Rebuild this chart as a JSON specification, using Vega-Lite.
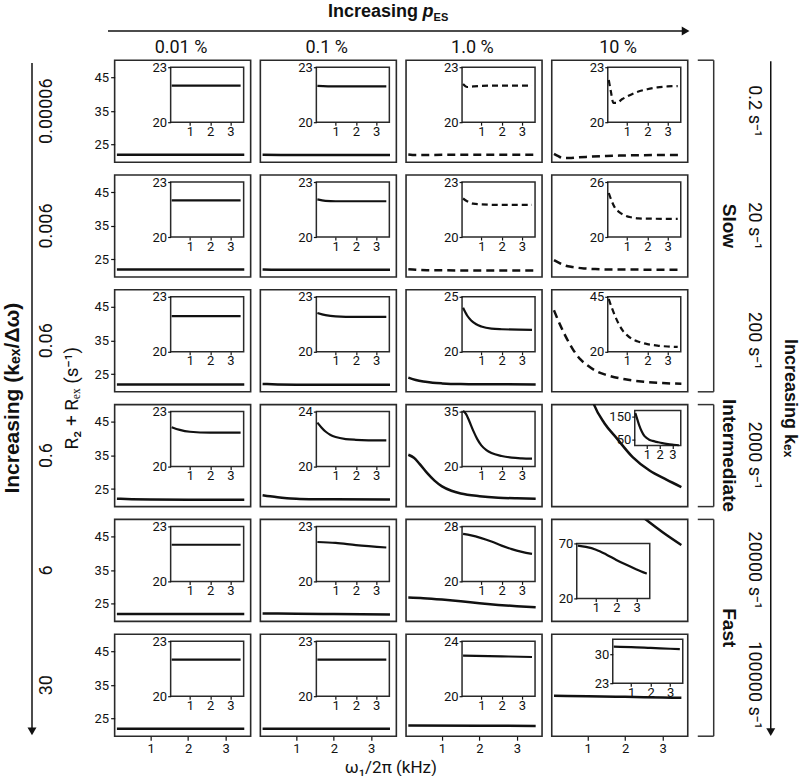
{
"$schema":"https://vega.github.io/schema/vega-lite/v6.json",
"padding":0,
"spacing":2.2,
"datasets":{"curves":[
{"p":"r1c1","x":0.1,"r":22},{"p":"r1c1","x":1,"r":22},{"p":"r1c1","x":2,"r":22},{"p":"r1c1","x":3.5,"r":22},
{"p":"r1c2","x":0.1,"r":21.98},{"p":"r1c2","x":1,"r":21.95},{"p":"r1c2","x":2,"r":21.95},{"p":"r1c2","x":3.5,"r":21.95},
{"p":"r1c3","x":0.1,"r":22.08},{"p":"r1c3","x":0.3,"r":21.92},{"p":"r1c3","x":0.6,"r":21.95},{"p":"r1c3","x":1,"r":21.98},{"p":"r1c3","x":2,"r":22},{"p":"r1c3","x":3.5,"r":22},
{"p":"r1c4","x":0.1,"r":22.3},{"p":"r1c4","x":0.2,"r":21.7},{"p":"r1c4","x":0.33,"r":21.05},{"p":"r1c4","x":0.5,"r":21.05},{"p":"r1c4","x":0.75,"r":21.25},{"p":"r1c4","x":1,"r":21.4},{"p":"r1c4","x":1.5,"r":21.65},{"p":"r1c4","x":2,"r":21.8},{"p":"r1c4","x":2.5,"r":21.9},{"p":"r1c4","x":3,"r":21.95},{"p":"r1c4","x":3.5,"r":21.97},
{"p":"r2c1","x":0.1,"r":22},{"p":"r2c1","x":1,"r":22},{"p":"r2c1","x":2,"r":22},{"p":"r2c1","x":3.5,"r":22},
{"p":"r2c2","x":0.1,"r":22.05},{"p":"r2c2","x":0.5,"r":21.97},{"p":"r2c2","x":1,"r":21.95},{"p":"r2c2","x":2,"r":21.95},{"p":"r2c2","x":3.5,"r":21.95},
{"p":"r2c3","x":0.1,"r":22.1},{"p":"r2c3","x":0.3,"r":21.95},{"p":"r2c3","x":0.6,"r":21.82},{"p":"r2c3","x":1,"r":21.78},{"p":"r2c3","x":2,"r":21.75},{"p":"r2c3","x":3.5,"r":21.75},
{"p":"r2c4","x":0.1,"r":24.8},{"p":"r2c4","x":0.25,"r":23.9},{"p":"r2c4","x":0.4,"r":23.2},{"p":"r2c4","x":0.6,"r":22.75},{"p":"r2c4","x":0.9,"r":22.35},{"p":"r2c4","x":1.2,"r":22.15},{"p":"r2c4","x":1.55,"r":22.03},{"p":"r2c4","x":2,"r":22},{"p":"r2c4","x":3.5,"r":21.98},
{"p":"r3c1","x":0.1,"r":21.95},{"p":"r3c1","x":1,"r":21.95},{"p":"r3c1","x":2,"r":21.95},{"p":"r3c1","x":3.5,"r":21.95},
{"p":"r3c2","x":0.1,"r":22.12},{"p":"r3c2","x":0.5,"r":22},{"p":"r3c2","x":1,"r":21.93},{"p":"r3c2","x":2,"r":21.9},{"p":"r3c2","x":3.5,"r":21.9},
{"p":"r3c3","x":0.1,"r":24},{"p":"r3c3","x":0.3,"r":23.3},{"p":"r3c3","x":0.5,"r":22.85},{"p":"r3c3","x":0.75,"r":22.5},{"p":"r3c3","x":1,"r":22.3},{"p":"r3c3","x":1.5,"r":22.1},{"p":"r3c3","x":2,"r":22.05},{"p":"r3c3","x":3.5,"r":22},
{"p":"r3c4","x":0.1,"r":44},{"p":"r3c4","x":0.25,"r":40},{"p":"r3c4","x":0.4,"r":36.5},{"p":"r3c4","x":0.6,"r":32.5},{"p":"r3c4","x":0.8,"r":29.5},{"p":"r3c4","x":1,"r":27.6},{"p":"r3c4","x":1.25,"r":25.8},{"p":"r3c4","x":1.5,"r":24.8},{"p":"r3c4","x":2,"r":23.5},{"p":"r3c4","x":2.5,"r":22.8},{"p":"r3c4","x":3,"r":22.4},{"p":"r3c4","x":3.5,"r":22.2},
{"p":"r4c1","x":0.1,"r":22.15},{"p":"r4c1","x":0.5,"r":22},{"p":"r4c1","x":1,"r":21.9},{"p":"r4c1","x":2,"r":21.85},{"p":"r4c1","x":3.5,"r":21.85},
{"p":"r4c2","x":0.1,"r":23.2},{"p":"r4c2","x":0.3,"r":22.85},{"p":"r4c2","x":0.5,"r":22.55},{"p":"r4c2","x":0.75,"r":22.3},{"p":"r4c2","x":1,"r":22.15},{"p":"r4c2","x":1.5,"r":22},{"p":"r4c2","x":2,"r":21.95},{"p":"r4c2","x":3.5,"r":21.9},
{"p":"r4c3","x":0.1,"r":35.2},{"p":"r4c3","x":0.25,"r":34.3},{"p":"r4c3","x":0.4,"r":32.5},{"p":"r4c3","x":0.6,"r":29.8},{"p":"r4c3","x":0.8,"r":27.5},{"p":"r4c3","x":1,"r":25.8},{"p":"r4c3","x":1.25,"r":24.5},{"p":"r4c3","x":1.5,"r":23.7},{"p":"r4c3","x":2,"r":22.9},{"p":"r4c3","x":2.5,"r":22.45},{"p":"r4c3","x":3,"r":22.25},{"p":"r4c3","x":3.5,"r":22.15},
{"p":"r4c4","x":0.1,"r":165},{"p":"r4c4","x":0.25,"r":138},{"p":"r4c4","x":0.4,"r":112},{"p":"r4c4","x":0.6,"r":85},{"p":"r4c4","x":0.8,"r":66},{"p":"r4c4","x":1,"r":56},{"p":"r4c4","x":1.18,"r":49.8},{"p":"r4c4","x":1.45,"r":44.5},{"p":"r4c4","x":1.76,"r":40.3},{"p":"r4c4","x":2.2,"r":34.5},{"p":"r4c4","x":2.65,"r":30.5},{"p":"r4c4","x":3.1,"r":27.8},{"p":"r4c4","x":3.5,"r":25.6},
{"p":"r5c1","x":0.1,"r":22},{"p":"r5c1","x":1,"r":22},{"p":"r5c1","x":2,"r":22},{"p":"r5c1","x":3.5,"r":22},
{"p":"r5c2","x":0.1,"r":22.15},{"p":"r5c2","x":1,"r":22.1},{"p":"r5c2","x":2,"r":21.98},{"p":"r5c2","x":3.5,"r":21.85},
{"p":"r5c3","x":0.1,"r":26.9},{"p":"r5c3","x":0.5,"r":26.7},{"p":"r5c3","x":1,"r":26.3},{"p":"r5c3","x":1.5,"r":25.8},{"p":"r5c3","x":2,"r":25.2},{"p":"r5c3","x":2.5,"r":24.7},{"p":"r5c3","x":3,"r":24.3},{"p":"r5c3","x":3.5,"r":24},
{"p":"r5c4","x":0.1,"r":68},{"p":"r5c4","x":0.5,"r":66.8},{"p":"r5c4","x":1,"r":64.3},{"p":"r5c4","x":1.5,"r":60},{"p":"r5c4","x":2,"r":55},{"p":"r5c4","x":2.5,"r":50.5},{"p":"r5c4","x":3,"r":46.3},{"p":"r5c4","x":3.5,"r":42.5},
{"p":"r6c1","x":0.1,"r":22},{"p":"r6c1","x":1,"r":22},{"p":"r6c1","x":2,"r":22},{"p":"r6c1","x":3.5,"r":22},
{"p":"r6c2","x":0.1,"r":22},{"p":"r6c2","x":1,"r":22},{"p":"r6c2","x":2,"r":22},{"p":"r6c2","x":3.5,"r":22},
{"p":"r6c3","x":0.1,"r":22.95},{"p":"r6c3","x":2,"r":22.9},{"p":"r6c3","x":3.5,"r":22.85},
{"p":"r6c4","x":0.1,"r":31.8},{"p":"r6c4","x":1,"r":31.7},{"p":"r6c4","x":2,"r":31.5},{"p":"r6c4","x":3,"r":31.3},{"p":"r6c4","x":3.5,"r":31.2}
]},
"vconcat":[
{
 "width":800,"height":56,"view":{"stroke":null},
 "data":{"values":[{}]},
 "layer":[
  {"mark":{"type":"text","text":"Increasing","font":"Liberation Sans","fontWeight":"bold","fontSize":18,"align":"right","baseline":"alphabetic","color":"#111"},
   "encoding":{"x":{"datum":0.5225,"type":"quantitative","scale":{"domain":[0,1],"nice":false,"zero":false},"axis":null},"y":{"datum":0.3036,"type":"quantitative","scale":{"domain":[0,1],"reverse":true,"nice":false,"zero":false},"axis":null}}},
  {"mark":{"type":"text","text":"p","font":"Liberation Sans","fontWeight":"bold","fontStyle":"italic","fontSize":18,"align":"left","baseline":"alphabetic","color":"#111"},
   "encoding":{"x":{"datum":0.528,"type":"quantitative","scale":{"domain":[0,1],"nice":false,"zero":false},"axis":null},"y":{"datum":0.3036,"type":"quantitative","scale":{"domain":[0,1],"reverse":true,"nice":false,"zero":false},"axis":null}}},
  {"mark":{"type":"text","text":"ES","font":"Liberation Sans","fontWeight":"bold","fontSize":11,"align":"left","baseline":"alphabetic","color":"#111"},
   "encoding":{"x":{"datum":0.542,"type":"quantitative","scale":{"domain":[0,1],"nice":false,"zero":false},"axis":null},"y":{"datum":0.375,"type":"quantitative","scale":{"domain":[0,1],"reverse":true,"nice":false,"zero":false},"axis":null}}},
  {"mark":{"type":"rule","strokeWidth":1.5,"color":"#111"},
   "encoding":{"x":{"datum":0.135,"type":"quantitative","scale":{"domain":[0,1],"nice":false,"zero":false},"axis":null},"x2":{"datum":0.855},"y":{"datum":0.5536,"type":"quantitative","scale":{"domain":[0,1],"reverse":true,"nice":false,"zero":false},"axis":null}}},
  {"mark":{"type":"point","shape":"triangle-right","size":80,"filled":true,"color":"#111","opacity":1},
   "encoding":{"x":{"datum":0.857,"type":"quantitative","scale":{"domain":[0,1],"nice":false,"zero":false},"axis":null},"y":{"datum":0.5536,"type":"quantitative","scale":{"domain":[0,1],"reverse":true,"nice":false,"zero":false},"axis":null}}},
  {"data":{"values":[{"c":"0.01 %"},{"c":"0.1 %"},{"c":"1.0 %"},{"c":"10 %"}]},
   "mark":{"type":"text","fontSize":18,"align":"center","baseline":"alphabetic","color":"#111"},
   "encoding":{"text":{"field":"c"},"x":{"field":"c","type":"ordinal","sort":null,"scale":{"type":"point","domain":["0.01 %","0.1 %","1.0 %","10 %"],"range":[181,618.1],"padding":0},"axis":null},"y":{"datum":0.9464,"type":"quantitative","scale":{"domain":[0,1],"reverse":true,"nice":false,"zero":false},"axis":null}}}
 ],
 "resolve":{"scale":{"x":"independent"}}
},
{
 "hconcat":[
 {
  "width":84.75,"height":676,"view":{"stroke":null},
  "layer":[
   {"data":{"values":[{}]},"mark":{"type":"rule","strokeWidth":1.5,"color":"#111"},"encoding":{"x":{"datum":0.3776,"type":"quantitative","scale":{"domain":[0,1],"nice":false,"zero":false},"axis":null},"y":{"datum":0.004,"type":"quantitative","scale":{"domain":[0,1],"reverse":true,"nice":false,"zero":false},"axis":null},"y2":{"datum":0.99}}},
   {"data":{"values":[{}]},"mark":{"type":"point","shape":"triangle-down","size":80,"filled":true,"color":"#111","opacity":1},"encoding":{"x":{"datum":0.3776,"type":"quantitative","scale":{"domain":[0,1],"nice":false,"zero":false},"axis":null},"y":{"datum":0.993,"type":"quantitative","scale":{"domain":[0,1],"reverse":true,"nice":false,"zero":false},"axis":null}}},
   {"data":{"values":[{}]},"mark":{"type":"text","text":"Increasing (kₑₓ/Δω)","font":"Liberation Sans","fontWeight":"bold","fontSize":21,"angle":270,"align":"center","baseline":"middle","color":"#111"},"encoding":{"x":{"datum":0.1534,"type":"quantitative","scale":{"domain":[0,1],"nice":false,"zero":false},"axis":null},"y":{"datum":0.5,"type":"quantitative","scale":{"domain":[0,1],"reverse":true,"nice":false,"zero":false},"axis":null}}},
   {"data":{"values":[{}]},"mark":{"type":"text","text":"R₂ + Rₑₓ (s⁻¹)","fontSize":19,"angle":270,"align":"center","baseline":"middle","color":"#111"},"encoding":{"x":{"datum":0.8496,"type":"quantitative","scale":{"domain":[0,1],"nice":false,"zero":false},"axis":null},"y":{"datum":0.5,"type":"quantitative","scale":{"domain":[0,1],"reverse":true,"nice":false,"zero":false},"axis":null}}},
   {"data":{"values":[{"k":"0.00006"},{"k":"0.006"},{"k":"0.06"},{"k":"0.6"},{"k":"6"},{"k":"30"}]},"mark":{"type":"text","fontSize":18,"angle":270,"align":"center","baseline":"middle","color":"#111"},"encoding":{"text":{"field":"k"},"x":{"datum":0.5546,"type":"quantitative","scale":{"domain":[0,1],"nice":false,"zero":false},"axis":null},"y":{"field":"k","type":"ordinal","sort":null,"scale":{"type":"point","domain":["0.00006","0.006","0.06","0.6","6","30"],"padding":0.44425},"axis":null}}}
  ],
  "resolve":{"scale":{"y":"independent"}}
 },
 {
  "columns":4,
  "spacing":{"row":12.8,"column":9.7},
  "bounds":"flush",
  "title":{"text":"ω₁/2π (kHz)","orient":"bottom","anchor":"middle","fontSize":17,"fontWeight":"normal","offset":4},
  "concat":[
    {"width":136,"height":102,"data":{"name":"curves"},"transform":[{"filter":"datum.p==='r1c1'"}],"layer":[{"mark":{"type":"line","clip":true,"strokeWidth":2.5,"color":"#111","interpolate":"monotone"},"encoding":{"x":{"field":"x","type":"quantitative","scale":{"domain":[0.04,3.67],"nice":false,"zero":false},"axis":null},"y":{"field":"r","type":"quantitative","scale":{"domain":[19.8,50.1],"nice":false,"zero":false},"axis":{"orient":"left","values":[25,35,45],"tickSize":4,"labelPadding":2,"title":null,"labelFlush":false}}}},{"data":{"values":[{}]},"mark":{"type":"rect","fill":"white","stroke":"#2a2a2a","strokeWidth":1.5},"encoding":{"x":{"datum":0.05,"type":"quantitative","scale":{"domain":[0.05,3.65],"range":[56,129],"nice":false,"zero":false},"axis":null},"x2":{"datum":3.65},"y":{"datum":20,"type":"quantitative","scale":{"domain":[20,23],"range":[62,7],"nice":false,"zero":false},"axis":null},"y2":{"datum":23}}},{"mark":{"type":"line","strokeWidth":2.2,"color":"#111","interpolate":"monotone"},"encoding":{"x":{"field":"x","type":"quantitative","scale":{"domain":[0.05,3.65],"range":[56,129],"nice":false,"zero":false},"axis":{"orient":"bottom","offset":-40,"values":[1,2,3],"tickSize":3,"labelPadding":0,"title":null,"labelFlush":false,"labelOverlap":false,"zindex":1}},"y":{"field":"r","type":"quantitative","scale":{"domain":[20,23],"range":[62,7],"nice":false,"zero":false},"axis":{"orient":"left","offset":-56,"values":[20,23],"tickSize":3,"labelPadding":1,"title":null,"labelFlush":false,"labelOverlap":false,"zindex":1}}}}],"resolve":{"scale":{"x":"independent","y":"independent"},"axis":{"x":"independent","y":"independent"}}},
    {"width":136,"height":102,"data":{"name":"curves"},"transform":[{"filter":"datum.p==='r1c2'"}],"layer":[{"mark":{"type":"line","clip":true,"strokeWidth":2.5,"color":"#111","interpolate":"monotone"},"encoding":{"x":{"field":"x","type":"quantitative","scale":{"domain":[0.04,3.67],"nice":false,"zero":false},"axis":null},"y":{"field":"r","type":"quantitative","scale":{"domain":[19.8,50.1],"nice":false,"zero":false},"axis":null}}},{"data":{"values":[{}]},"mark":{"type":"rect","fill":"white","stroke":"#2a2a2a","strokeWidth":1.5},"encoding":{"x":{"datum":0.05,"type":"quantitative","scale":{"domain":[0.05,3.65],"range":[56,129],"nice":false,"zero":false},"axis":null},"x2":{"datum":3.65},"y":{"datum":20,"type":"quantitative","scale":{"domain":[20,23],"range":[62,7],"nice":false,"zero":false},"axis":null},"y2":{"datum":23}}},{"mark":{"type":"line","strokeWidth":2.2,"color":"#111","interpolate":"monotone"},"encoding":{"x":{"field":"x","type":"quantitative","scale":{"domain":[0.05,3.65],"range":[56,129],"nice":false,"zero":false},"axis":{"orient":"bottom","offset":-40,"values":[1,2,3],"tickSize":3,"labelPadding":0,"title":null,"labelFlush":false,"labelOverlap":false,"zindex":1}},"y":{"field":"r","type":"quantitative","scale":{"domain":[20,23],"range":[62,7],"nice":false,"zero":false},"axis":{"orient":"left","offset":-56,"values":[20,23],"tickSize":3,"labelPadding":1,"title":null,"labelFlush":false,"labelOverlap":false,"zindex":1}}}}],"resolve":{"scale":{"x":"independent","y":"independent"},"axis":{"x":"independent","y":"independent"}}},
    {"width":136,"height":102,"data":{"name":"curves"},"transform":[{"filter":"datum.p==='r1c3'"}],"layer":[{"mark":{"type":"line","clip":true,"strokeWidth":2.5,"color":"#111","interpolate":"monotone","strokeDash":[8,5]},"encoding":{"x":{"field":"x","type":"quantitative","scale":{"domain":[0.04,3.67],"nice":false,"zero":false},"axis":null},"y":{"field":"r","type":"quantitative","scale":{"domain":[19.8,50.1],"nice":false,"zero":false},"axis":null}}},{"data":{"values":[{}]},"mark":{"type":"rect","fill":"white","stroke":"#2a2a2a","strokeWidth":1.5},"encoding":{"x":{"datum":0.05,"type":"quantitative","scale":{"domain":[0.05,3.65],"range":[56,129],"nice":false,"zero":false},"axis":null},"x2":{"datum":3.65},"y":{"datum":20,"type":"quantitative","scale":{"domain":[20,23],"range":[62,7],"nice":false,"zero":false},"axis":null},"y2":{"datum":23}}},{"mark":{"type":"line","strokeWidth":2.2,"color":"#111","interpolate":"monotone","strokeDash":[6,4]},"encoding":{"x":{"field":"x","type":"quantitative","scale":{"domain":[0.05,3.65],"range":[56,129],"nice":false,"zero":false},"axis":{"orient":"bottom","offset":-40,"values":[1,2,3],"tickSize":3,"labelPadding":0,"title":null,"labelFlush":false,"labelOverlap":false,"zindex":1}},"y":{"field":"r","type":"quantitative","scale":{"domain":[20,23],"range":[62,7],"nice":false,"zero":false},"axis":{"orient":"left","offset":-56,"values":[20,23],"tickSize":3,"labelPadding":1,"title":null,"labelFlush":false,"labelOverlap":false,"zindex":1}}}}],"resolve":{"scale":{"x":"independent","y":"independent"},"axis":{"x":"independent","y":"independent"}}},
    {"width":136,"height":102,"data":{"name":"curves"},"transform":[{"filter":"datum.p==='r1c4'"}],"layer":[{"mark":{"type":"line","clip":true,"strokeWidth":2.5,"color":"#111","interpolate":"monotone","strokeDash":[8,5]},"encoding":{"x":{"field":"x","type":"quantitative","scale":{"domain":[0.04,3.67],"nice":false,"zero":false},"axis":null},"y":{"field":"r","type":"quantitative","scale":{"domain":[19.8,50.1],"nice":false,"zero":false},"axis":null}}},{"data":{"values":[{}]},"mark":{"type":"rect","fill":"white","stroke":"#2a2a2a","strokeWidth":1.5},"encoding":{"x":{"datum":0.05,"type":"quantitative","scale":{"domain":[0.05,3.65],"range":[56,129],"nice":false,"zero":false},"axis":null},"x2":{"datum":3.65},"y":{"datum":20,"type":"quantitative","scale":{"domain":[20,23],"range":[62,7],"nice":false,"zero":false},"axis":null},"y2":{"datum":23}}},{"mark":{"type":"line","strokeWidth":2.2,"color":"#111","interpolate":"monotone","strokeDash":[6,4]},"encoding":{"x":{"field":"x","type":"quantitative","scale":{"domain":[0.05,3.65],"range":[56,129],"nice":false,"zero":false},"axis":{"orient":"bottom","offset":-40,"values":[1,2,3],"tickSize":3,"labelPadding":0,"title":null,"labelFlush":false,"labelOverlap":false,"zindex":1}},"y":{"field":"r","type":"quantitative","scale":{"domain":[20,23],"range":[62,7],"nice":false,"zero":false},"axis":{"orient":"left","offset":-56,"values":[20,23],"tickSize":3,"labelPadding":1,"title":null,"labelFlush":false,"labelOverlap":false,"zindex":1}}}}],"resolve":{"scale":{"x":"independent","y":"independent"},"axis":{"x":"independent","y":"independent"}}},
    {"width":136,"height":102,"data":{"name":"curves"},"transform":[{"filter":"datum.p==='r2c1'"}],"layer":[{"mark":{"type":"line","clip":true,"strokeWidth":2.5,"color":"#111","interpolate":"monotone"},"encoding":{"x":{"field":"x","type":"quantitative","scale":{"domain":[0.04,3.67],"nice":false,"zero":false},"axis":null},"y":{"field":"r","type":"quantitative","scale":{"domain":[19.8,50.1],"nice":false,"zero":false},"axis":{"orient":"left","values":[25,35,45],"tickSize":4,"labelPadding":2,"title":null,"labelFlush":false}}}},{"data":{"values":[{}]},"mark":{"type":"rect","fill":"white","stroke":"#2a2a2a","strokeWidth":1.5},"encoding":{"x":{"datum":0.05,"type":"quantitative","scale":{"domain":[0.05,3.65],"range":[56,129],"nice":false,"zero":false},"axis":null},"x2":{"datum":3.65},"y":{"datum":20,"type":"quantitative","scale":{"domain":[20,23],"range":[62,7],"nice":false,"zero":false},"axis":null},"y2":{"datum":23}}},{"mark":{"type":"line","strokeWidth":2.2,"color":"#111","interpolate":"monotone"},"encoding":{"x":{"field":"x","type":"quantitative","scale":{"domain":[0.05,3.65],"range":[56,129],"nice":false,"zero":false},"axis":{"orient":"bottom","offset":-40,"values":[1,2,3],"tickSize":3,"labelPadding":0,"title":null,"labelFlush":false,"labelOverlap":false,"zindex":1}},"y":{"field":"r","type":"quantitative","scale":{"domain":[20,23],"range":[62,7],"nice":false,"zero":false},"axis":{"orient":"left","offset":-56,"values":[20,23],"tickSize":3,"labelPadding":1,"title":null,"labelFlush":false,"labelOverlap":false,"zindex":1}}}}],"resolve":{"scale":{"x":"independent","y":"independent"},"axis":{"x":"independent","y":"independent"}}},
    {"width":136,"height":102,"data":{"name":"curves"},"transform":[{"filter":"datum.p==='r2c2'"}],"layer":[{"mark":{"type":"line","clip":true,"strokeWidth":2.5,"color":"#111","interpolate":"monotone"},"encoding":{"x":{"field":"x","type":"quantitative","scale":{"domain":[0.04,3.67],"nice":false,"zero":false},"axis":null},"y":{"field":"r","type":"quantitative","scale":{"domain":[19.8,50.1],"nice":false,"zero":false},"axis":null}}},{"data":{"values":[{}]},"mark":{"type":"rect","fill":"white","stroke":"#2a2a2a","strokeWidth":1.5},"encoding":{"x":{"datum":0.05,"type":"quantitative","scale":{"domain":[0.05,3.65],"range":[56,129],"nice":false,"zero":false},"axis":null},"x2":{"datum":3.65},"y":{"datum":20,"type":"quantitative","scale":{"domain":[20,23],"range":[62,7],"nice":false,"zero":false},"axis":null},"y2":{"datum":23}}},{"mark":{"type":"line","strokeWidth":2.2,"color":"#111","interpolate":"monotone"},"encoding":{"x":{"field":"x","type":"quantitative","scale":{"domain":[0.05,3.65],"range":[56,129],"nice":false,"zero":false},"axis":{"orient":"bottom","offset":-40,"values":[1,2,3],"tickSize":3,"labelPadding":0,"title":null,"labelFlush":false,"labelOverlap":false,"zindex":1}},"y":{"field":"r","type":"quantitative","scale":{"domain":[20,23],"range":[62,7],"nice":false,"zero":false},"axis":{"orient":"left","offset":-56,"values":[20,23],"tickSize":3,"labelPadding":1,"title":null,"labelFlush":false,"labelOverlap":false,"zindex":1}}}}],"resolve":{"scale":{"x":"independent","y":"independent"},"axis":{"x":"independent","y":"independent"}}},
    {"width":136,"height":102,"data":{"name":"curves"},"transform":[{"filter":"datum.p==='r2c3'"}],"layer":[{"mark":{"type":"line","clip":true,"strokeWidth":2.5,"color":"#111","interpolate":"monotone","strokeDash":[8,5]},"encoding":{"x":{"field":"x","type":"quantitative","scale":{"domain":[0.04,3.67],"nice":false,"zero":false},"axis":null},"y":{"field":"r","type":"quantitative","scale":{"domain":[19.8,50.1],"nice":false,"zero":false},"axis":null}}},{"data":{"values":[{}]},"mark":{"type":"rect","fill":"white","stroke":"#2a2a2a","strokeWidth":1.5},"encoding":{"x":{"datum":0.05,"type":"quantitative","scale":{"domain":[0.05,3.65],"range":[56,129],"nice":false,"zero":false},"axis":null},"x2":{"datum":3.65},"y":{"datum":20,"type":"quantitative","scale":{"domain":[20,23],"range":[62,7],"nice":false,"zero":false},"axis":null},"y2":{"datum":23}}},{"mark":{"type":"line","strokeWidth":2.2,"color":"#111","interpolate":"monotone","strokeDash":[6,4]},"encoding":{"x":{"field":"x","type":"quantitative","scale":{"domain":[0.05,3.65],"range":[56,129],"nice":false,"zero":false},"axis":{"orient":"bottom","offset":-40,"values":[1,2,3],"tickSize":3,"labelPadding":0,"title":null,"labelFlush":false,"labelOverlap":false,"zindex":1}},"y":{"field":"r","type":"quantitative","scale":{"domain":[20,23],"range":[62,7],"nice":false,"zero":false},"axis":{"orient":"left","offset":-56,"values":[20,23],"tickSize":3,"labelPadding":1,"title":null,"labelFlush":false,"labelOverlap":false,"zindex":1}}}}],"resolve":{"scale":{"x":"independent","y":"independent"},"axis":{"x":"independent","y":"independent"}}},
    {"width":136,"height":102,"data":{"name":"curves"},"transform":[{"filter":"datum.p==='r2c4'"}],"layer":[{"mark":{"type":"line","clip":true,"strokeWidth":2.5,"color":"#111","interpolate":"monotone","strokeDash":[8,5]},"encoding":{"x":{"field":"x","type":"quantitative","scale":{"domain":[0.04,3.67],"nice":false,"zero":false},"axis":null},"y":{"field":"r","type":"quantitative","scale":{"domain":[19.8,50.1],"nice":false,"zero":false},"axis":null}}},{"data":{"values":[{}]},"mark":{"type":"rect","fill":"white","stroke":"#2a2a2a","strokeWidth":1.5},"encoding":{"x":{"datum":0.05,"type":"quantitative","scale":{"domain":[0.05,3.65],"range":[56,129],"nice":false,"zero":false},"axis":null},"x2":{"datum":3.65},"y":{"datum":20,"type":"quantitative","scale":{"domain":[20,26],"range":[62,7],"nice":false,"zero":false},"axis":null},"y2":{"datum":26}}},{"mark":{"type":"line","strokeWidth":2.2,"color":"#111","interpolate":"monotone","strokeDash":[6,4]},"encoding":{"x":{"field":"x","type":"quantitative","scale":{"domain":[0.05,3.65],"range":[56,129],"nice":false,"zero":false},"axis":{"orient":"bottom","offset":-40,"values":[1,2,3],"tickSize":3,"labelPadding":0,"title":null,"labelFlush":false,"labelOverlap":false,"zindex":1}},"y":{"field":"r","type":"quantitative","scale":{"domain":[20,26],"range":[62,7],"nice":false,"zero":false},"axis":{"orient":"left","offset":-56,"values":[20,26],"tickSize":3,"labelPadding":1,"title":null,"labelFlush":false,"labelOverlap":false,"zindex":1}}}}],"resolve":{"scale":{"x":"independent","y":"independent"},"axis":{"x":"independent","y":"independent"}}},
    {"width":136,"height":102,"data":{"name":"curves"},"transform":[{"filter":"datum.p==='r3c1'"}],"layer":[{"mark":{"type":"line","clip":true,"strokeWidth":2.5,"color":"#111","interpolate":"monotone"},"encoding":{"x":{"field":"x","type":"quantitative","scale":{"domain":[0.04,3.67],"nice":false,"zero":false},"axis":null},"y":{"field":"r","type":"quantitative","scale":{"domain":[19.8,50.1],"nice":false,"zero":false},"axis":{"orient":"left","values":[25,35,45],"tickSize":4,"labelPadding":2,"title":null,"labelFlush":false}}}},{"data":{"values":[{}]},"mark":{"type":"rect","fill":"white","stroke":"#2a2a2a","strokeWidth":1.5},"encoding":{"x":{"datum":0.05,"type":"quantitative","scale":{"domain":[0.05,3.65],"range":[56,129],"nice":false,"zero":false},"axis":null},"x2":{"datum":3.65},"y":{"datum":20,"type":"quantitative","scale":{"domain":[20,23],"range":[62,7],"nice":false,"zero":false},"axis":null},"y2":{"datum":23}}},{"mark":{"type":"line","strokeWidth":2.2,"color":"#111","interpolate":"monotone"},"encoding":{"x":{"field":"x","type":"quantitative","scale":{"domain":[0.05,3.65],"range":[56,129],"nice":false,"zero":false},"axis":{"orient":"bottom","offset":-40,"values":[1,2,3],"tickSize":3,"labelPadding":0,"title":null,"labelFlush":false,"labelOverlap":false,"zindex":1}},"y":{"field":"r","type":"quantitative","scale":{"domain":[20,23],"range":[62,7],"nice":false,"zero":false},"axis":{"orient":"left","offset":-56,"values":[20,23],"tickSize":3,"labelPadding":1,"title":null,"labelFlush":false,"labelOverlap":false,"zindex":1}}}}],"resolve":{"scale":{"x":"independent","y":"independent"},"axis":{"x":"independent","y":"independent"}}},
    {"width":136,"height":102,"data":{"name":"curves"},"transform":[{"filter":"datum.p==='r3c2'"}],"layer":[{"mark":{"type":"line","clip":true,"strokeWidth":2.5,"color":"#111","interpolate":"monotone"},"encoding":{"x":{"field":"x","type":"quantitative","scale":{"domain":[0.04,3.67],"nice":false,"zero":false},"axis":null},"y":{"field":"r","type":"quantitative","scale":{"domain":[19.8,50.1],"nice":false,"zero":false},"axis":null}}},{"data":{"values":[{}]},"mark":{"type":"rect","fill":"white","stroke":"#2a2a2a","strokeWidth":1.5},"encoding":{"x":{"datum":0.05,"type":"quantitative","scale":{"domain":[0.05,3.65],"range":[56,129],"nice":false,"zero":false},"axis":null},"x2":{"datum":3.65},"y":{"datum":20,"type":"quantitative","scale":{"domain":[20,23],"range":[62,7],"nice":false,"zero":false},"axis":null},"y2":{"datum":23}}},{"mark":{"type":"line","strokeWidth":2.2,"color":"#111","interpolate":"monotone"},"encoding":{"x":{"field":"x","type":"quantitative","scale":{"domain":[0.05,3.65],"range":[56,129],"nice":false,"zero":false},"axis":{"orient":"bottom","offset":-40,"values":[1,2,3],"tickSize":3,"labelPadding":0,"title":null,"labelFlush":false,"labelOverlap":false,"zindex":1}},"y":{"field":"r","type":"quantitative","scale":{"domain":[20,23],"range":[62,7],"nice":false,"zero":false},"axis":{"orient":"left","offset":-56,"values":[20,23],"tickSize":3,"labelPadding":1,"title":null,"labelFlush":false,"labelOverlap":false,"zindex":1}}}}],"resolve":{"scale":{"x":"independent","y":"independent"},"axis":{"x":"independent","y":"independent"}}},
    {"width":136,"height":102,"data":{"name":"curves"},"transform":[{"filter":"datum.p==='r3c3'"}],"layer":[{"mark":{"type":"line","clip":true,"strokeWidth":2.5,"color":"#111","interpolate":"monotone"},"encoding":{"x":{"field":"x","type":"quantitative","scale":{"domain":[0.04,3.67],"nice":false,"zero":false},"axis":null},"y":{"field":"r","type":"quantitative","scale":{"domain":[19.8,50.1],"nice":false,"zero":false},"axis":null}}},{"data":{"values":[{}]},"mark":{"type":"rect","fill":"white","stroke":"#2a2a2a","strokeWidth":1.5},"encoding":{"x":{"datum":0.05,"type":"quantitative","scale":{"domain":[0.05,3.65],"range":[56,129],"nice":false,"zero":false},"axis":null},"x2":{"datum":3.65},"y":{"datum":20,"type":"quantitative","scale":{"domain":[20,25],"range":[62,7],"nice":false,"zero":false},"axis":null},"y2":{"datum":25}}},{"mark":{"type":"line","strokeWidth":2.2,"color":"#111","interpolate":"monotone"},"encoding":{"x":{"field":"x","type":"quantitative","scale":{"domain":[0.05,3.65],"range":[56,129],"nice":false,"zero":false},"axis":{"orient":"bottom","offset":-40,"values":[1,2,3],"tickSize":3,"labelPadding":0,"title":null,"labelFlush":false,"labelOverlap":false,"zindex":1}},"y":{"field":"r","type":"quantitative","scale":{"domain":[20,25],"range":[62,7],"nice":false,"zero":false},"axis":{"orient":"left","offset":-56,"values":[20,25],"tickSize":3,"labelPadding":1,"title":null,"labelFlush":false,"labelOverlap":false,"zindex":1}}}}],"resolve":{"scale":{"x":"independent","y":"independent"},"axis":{"x":"independent","y":"independent"}}},
    {"width":136,"height":102,"data":{"name":"curves"},"transform":[{"filter":"datum.p==='r3c4'"}],"layer":[{"mark":{"type":"line","clip":true,"strokeWidth":2.5,"color":"#111","interpolate":"monotone","strokeDash":[8,5]},"encoding":{"x":{"field":"x","type":"quantitative","scale":{"domain":[0.04,3.67],"nice":false,"zero":false},"axis":null},"y":{"field":"r","type":"quantitative","scale":{"domain":[19.8,50.1],"nice":false,"zero":false},"axis":null}}},{"data":{"values":[{}]},"mark":{"type":"rect","fill":"white","stroke":"#2a2a2a","strokeWidth":1.5},"encoding":{"x":{"datum":0.05,"type":"quantitative","scale":{"domain":[0.05,3.65],"range":[56,129],"nice":false,"zero":false},"axis":null},"x2":{"datum":3.65},"y":{"datum":20,"type":"quantitative","scale":{"domain":[20,45],"range":[62,7],"nice":false,"zero":false},"axis":null},"y2":{"datum":45}}},{"mark":{"type":"line","strokeWidth":2.2,"color":"#111","interpolate":"monotone","strokeDash":[6,4]},"encoding":{"x":{"field":"x","type":"quantitative","scale":{"domain":[0.05,3.65],"range":[56,129],"nice":false,"zero":false},"axis":{"orient":"bottom","offset":-40,"values":[1,2,3],"tickSize":3,"labelPadding":0,"title":null,"labelFlush":false,"labelOverlap":false,"zindex":1}},"y":{"field":"r","type":"quantitative","scale":{"domain":[20,45],"range":[62,7],"nice":false,"zero":false},"axis":{"orient":"left","offset":-56,"values":[20,45],"tickSize":3,"labelPadding":1,"title":null,"labelFlush":false,"labelOverlap":false,"zindex":1}}}}],"resolve":{"scale":{"x":"independent","y":"independent"},"axis":{"x":"independent","y":"independent"}}},
    {"width":136,"height":102,"data":{"name":"curves"},"transform":[{"filter":"datum.p==='r4c1'"}],"layer":[{"mark":{"type":"line","clip":true,"strokeWidth":2.5,"color":"#111","interpolate":"monotone"},"encoding":{"x":{"field":"x","type":"quantitative","scale":{"domain":[0.04,3.67],"nice":false,"zero":false},"axis":null},"y":{"field":"r","type":"quantitative","scale":{"domain":[19.8,50.1],"nice":false,"zero":false},"axis":{"orient":"left","values":[25,35,45],"tickSize":4,"labelPadding":2,"title":null,"labelFlush":false}}}},{"data":{"values":[{}]},"mark":{"type":"rect","fill":"white","stroke":"#2a2a2a","strokeWidth":1.5},"encoding":{"x":{"datum":0.05,"type":"quantitative","scale":{"domain":[0.05,3.65],"range":[56,129],"nice":false,"zero":false},"axis":null},"x2":{"datum":3.65},"y":{"datum":20,"type":"quantitative","scale":{"domain":[20,23],"range":[62,7],"nice":false,"zero":false},"axis":null},"y2":{"datum":23}}},{"mark":{"type":"line","strokeWidth":2.2,"color":"#111","interpolate":"monotone"},"encoding":{"x":{"field":"x","type":"quantitative","scale":{"domain":[0.05,3.65],"range":[56,129],"nice":false,"zero":false},"axis":{"orient":"bottom","offset":-40,"values":[1,2,3],"tickSize":3,"labelPadding":0,"title":null,"labelFlush":false,"labelOverlap":false,"zindex":1}},"y":{"field":"r","type":"quantitative","scale":{"domain":[20,23],"range":[62,7],"nice":false,"zero":false},"axis":{"orient":"left","offset":-56,"values":[20,23],"tickSize":3,"labelPadding":1,"title":null,"labelFlush":false,"labelOverlap":false,"zindex":1}}}}],"resolve":{"scale":{"x":"independent","y":"independent"},"axis":{"x":"independent","y":"independent"}}},
    {"width":136,"height":102,"data":{"name":"curves"},"transform":[{"filter":"datum.p==='r4c2'"}],"layer":[{"mark":{"type":"line","clip":true,"strokeWidth":2.5,"color":"#111","interpolate":"monotone"},"encoding":{"x":{"field":"x","type":"quantitative","scale":{"domain":[0.04,3.67],"nice":false,"zero":false},"axis":null},"y":{"field":"r","type":"quantitative","scale":{"domain":[19.8,50.1],"nice":false,"zero":false},"axis":null}}},{"data":{"values":[{}]},"mark":{"type":"rect","fill":"white","stroke":"#2a2a2a","strokeWidth":1.5},"encoding":{"x":{"datum":0.05,"type":"quantitative","scale":{"domain":[0.05,3.65],"range":[56,129],"nice":false,"zero":false},"axis":null},"x2":{"datum":3.65},"y":{"datum":20,"type":"quantitative","scale":{"domain":[20,24],"range":[62,7],"nice":false,"zero":false},"axis":null},"y2":{"datum":24}}},{"mark":{"type":"line","strokeWidth":2.2,"color":"#111","interpolate":"monotone"},"encoding":{"x":{"field":"x","type":"quantitative","scale":{"domain":[0.05,3.65],"range":[56,129],"nice":false,"zero":false},"axis":{"orient":"bottom","offset":-40,"values":[1,2,3],"tickSize":3,"labelPadding":0,"title":null,"labelFlush":false,"labelOverlap":false,"zindex":1}},"y":{"field":"r","type":"quantitative","scale":{"domain":[20,24],"range":[62,7],"nice":false,"zero":false},"axis":{"orient":"left","offset":-56,"values":[20,24],"tickSize":3,"labelPadding":1,"title":null,"labelFlush":false,"labelOverlap":false,"zindex":1}}}}],"resolve":{"scale":{"x":"independent","y":"independent"},"axis":{"x":"independent","y":"independent"}}},
    {"width":136,"height":102,"data":{"name":"curves"},"transform":[{"filter":"datum.p==='r4c3'"}],"layer":[{"mark":{"type":"line","clip":true,"strokeWidth":2.5,"color":"#111","interpolate":"monotone"},"encoding":{"x":{"field":"x","type":"quantitative","scale":{"domain":[0.04,3.67],"nice":false,"zero":false},"axis":null},"y":{"field":"r","type":"quantitative","scale":{"domain":[19.8,50.1],"nice":false,"zero":false},"axis":null}}},{"data":{"values":[{}]},"mark":{"type":"rect","fill":"white","stroke":"#2a2a2a","strokeWidth":1.5},"encoding":{"x":{"datum":0.05,"type":"quantitative","scale":{"domain":[0.05,3.65],"range":[56,129],"nice":false,"zero":false},"axis":null},"x2":{"datum":3.65},"y":{"datum":20,"type":"quantitative","scale":{"domain":[20,35],"range":[62,7],"nice":false,"zero":false},"axis":null},"y2":{"datum":35}}},{"mark":{"type":"line","strokeWidth":2.2,"color":"#111","interpolate":"monotone"},"encoding":{"x":{"field":"x","type":"quantitative","scale":{"domain":[0.05,3.65],"range":[56,129],"nice":false,"zero":false},"axis":{"orient":"bottom","offset":-40,"values":[1,2,3],"tickSize":3,"labelPadding":0,"title":null,"labelFlush":false,"labelOverlap":false,"zindex":1}},"y":{"field":"r","type":"quantitative","scale":{"domain":[20,35],"range":[62,7],"nice":false,"zero":false},"axis":{"orient":"left","offset":-56,"values":[20,35],"tickSize":3,"labelPadding":1,"title":null,"labelFlush":false,"labelOverlap":false,"zindex":1}}}}],"resolve":{"scale":{"x":"independent","y":"independent"},"axis":{"x":"independent","y":"independent"}}},
    {"width":136,"height":102,"data":{"name":"curves"},"transform":[{"filter":"datum.p==='r4c4'"}],"layer":[{"mark":{"type":"line","clip":true,"strokeWidth":2.5,"color":"#111","interpolate":"monotone"},"encoding":{"x":{"field":"x","type":"quantitative","scale":{"domain":[0.04,3.67],"nice":false,"zero":false},"axis":null},"y":{"field":"r","type":"quantitative","scale":{"domain":[19.8,50.1],"nice":false,"zero":false},"axis":null}}},{"data":{"values":[{}]},"mark":{"type":"rect","fill":"white","stroke":"#2a2a2a","strokeWidth":1.5},"encoding":{"x":{"datum":0.05,"type":"quantitative","scale":{"domain":[0.05,3.65],"range":[83,129],"nice":false,"zero":false},"axis":null},"x2":{"datum":3.65},"y":{"datum":24,"type":"quantitative","scale":{"domain":[24,176],"range":[41,6],"nice":false,"zero":false},"axis":null},"y2":{"datum":176}}},{"mark":{"type":"line","strokeWidth":2.2,"color":"#111","interpolate":"monotone"},"encoding":{"x":{"field":"x","type":"quantitative","scale":{"domain":[0.05,3.65],"range":[83,129],"nice":false,"zero":false},"axis":{"orient":"bottom","offset":-61,"values":[1,2,3],"tickSize":3,"labelPadding":0,"title":null,"labelFlush":false,"labelOverlap":false,"zindex":1}},"y":{"field":"r","type":"quantitative","scale":{"domain":[24,176],"range":[41,6],"nice":false,"zero":false},"axis":{"orient":"left","offset":-83,"values":[50,150],"tickSize":3,"labelPadding":1,"title":null,"labelFlush":false,"labelOverlap":false,"zindex":1}}}}],"resolve":{"scale":{"x":"independent","y":"independent"},"axis":{"x":"independent","y":"independent"}}},
    {"width":136,"height":102,"data":{"name":"curves"},"transform":[{"filter":"datum.p==='r5c1'"}],"layer":[{"mark":{"type":"line","clip":true,"strokeWidth":2.5,"color":"#111","interpolate":"monotone"},"encoding":{"x":{"field":"x","type":"quantitative","scale":{"domain":[0.04,3.67],"nice":false,"zero":false},"axis":null},"y":{"field":"r","type":"quantitative","scale":{"domain":[19.8,50.1],"nice":false,"zero":false},"axis":{"orient":"left","values":[25,35,45],"tickSize":4,"labelPadding":2,"title":null,"labelFlush":false}}}},{"data":{"values":[{}]},"mark":{"type":"rect","fill":"white","stroke":"#2a2a2a","strokeWidth":1.5},"encoding":{"x":{"datum":0.05,"type":"quantitative","scale":{"domain":[0.05,3.65],"range":[56,129],"nice":false,"zero":false},"axis":null},"x2":{"datum":3.65},"y":{"datum":20,"type":"quantitative","scale":{"domain":[20,23],"range":[62,7],"nice":false,"zero":false},"axis":null},"y2":{"datum":23}}},{"mark":{"type":"line","strokeWidth":2.2,"color":"#111","interpolate":"monotone"},"encoding":{"x":{"field":"x","type":"quantitative","scale":{"domain":[0.05,3.65],"range":[56,129],"nice":false,"zero":false},"axis":{"orient":"bottom","offset":-40,"values":[1,2,3],"tickSize":3,"labelPadding":0,"title":null,"labelFlush":false,"labelOverlap":false,"zindex":1}},"y":{"field":"r","type":"quantitative","scale":{"domain":[20,23],"range":[62,7],"nice":false,"zero":false},"axis":{"orient":"left","offset":-56,"values":[20,23],"tickSize":3,"labelPadding":1,"title":null,"labelFlush":false,"labelOverlap":false,"zindex":1}}}}],"resolve":{"scale":{"x":"independent","y":"independent"},"axis":{"x":"independent","y":"independent"}}},
    {"width":136,"height":102,"data":{"name":"curves"},"transform":[{"filter":"datum.p==='r5c2'"}],"layer":[{"mark":{"type":"line","clip":true,"strokeWidth":2.5,"color":"#111","interpolate":"monotone"},"encoding":{"x":{"field":"x","type":"quantitative","scale":{"domain":[0.04,3.67],"nice":false,"zero":false},"axis":null},"y":{"field":"r","type":"quantitative","scale":{"domain":[19.8,50.1],"nice":false,"zero":false},"axis":null}}},{"data":{"values":[{}]},"mark":{"type":"rect","fill":"white","stroke":"#2a2a2a","strokeWidth":1.5},"encoding":{"x":{"datum":0.05,"type":"quantitative","scale":{"domain":[0.05,3.65],"range":[56,129],"nice":false,"zero":false},"axis":null},"x2":{"datum":3.65},"y":{"datum":20,"type":"quantitative","scale":{"domain":[20,23],"range":[62,7],"nice":false,"zero":false},"axis":null},"y2":{"datum":23}}},{"mark":{"type":"line","strokeWidth":2.2,"color":"#111","interpolate":"monotone"},"encoding":{"x":{"field":"x","type":"quantitative","scale":{"domain":[0.05,3.65],"range":[56,129],"nice":false,"zero":false},"axis":{"orient":"bottom","offset":-40,"values":[1,2,3],"tickSize":3,"labelPadding":0,"title":null,"labelFlush":false,"labelOverlap":false,"zindex":1}},"y":{"field":"r","type":"quantitative","scale":{"domain":[20,23],"range":[62,7],"nice":false,"zero":false},"axis":{"orient":"left","offset":-56,"values":[20,23],"tickSize":3,"labelPadding":1,"title":null,"labelFlush":false,"labelOverlap":false,"zindex":1}}}}],"resolve":{"scale":{"x":"independent","y":"independent"},"axis":{"x":"independent","y":"independent"}}},
    {"width":136,"height":102,"data":{"name":"curves"},"transform":[{"filter":"datum.p==='r5c3'"}],"layer":[{"mark":{"type":"line","clip":true,"strokeWidth":2.5,"color":"#111","interpolate":"monotone"},"encoding":{"x":{"field":"x","type":"quantitative","scale":{"domain":[0.04,3.67],"nice":false,"zero":false},"axis":null},"y":{"field":"r","type":"quantitative","scale":{"domain":[19.8,50.1],"nice":false,"zero":false},"axis":null}}},{"data":{"values":[{}]},"mark":{"type":"rect","fill":"white","stroke":"#2a2a2a","strokeWidth":1.5},"encoding":{"x":{"datum":0.05,"type":"quantitative","scale":{"domain":[0.05,3.65],"range":[56,129],"nice":false,"zero":false},"axis":null},"x2":{"datum":3.65},"y":{"datum":20,"type":"quantitative","scale":{"domain":[20,28],"range":[62,7],"nice":false,"zero":false},"axis":null},"y2":{"datum":28}}},{"mark":{"type":"line","strokeWidth":2.2,"color":"#111","interpolate":"monotone"},"encoding":{"x":{"field":"x","type":"quantitative","scale":{"domain":[0.05,3.65],"range":[56,129],"nice":false,"zero":false},"axis":{"orient":"bottom","offset":-40,"values":[1,2,3],"tickSize":3,"labelPadding":0,"title":null,"labelFlush":false,"labelOverlap":false,"zindex":1}},"y":{"field":"r","type":"quantitative","scale":{"domain":[20,28],"range":[62,7],"nice":false,"zero":false},"axis":{"orient":"left","offset":-56,"values":[20,28],"tickSize":3,"labelPadding":1,"title":null,"labelFlush":false,"labelOverlap":false,"zindex":1}}}}],"resolve":{"scale":{"x":"independent","y":"independent"},"axis":{"x":"independent","y":"independent"}}},
    {"width":136,"height":102,"data":{"name":"curves"},"transform":[{"filter":"datum.p==='r5c4'"}],"layer":[{"mark":{"type":"line","clip":true,"strokeWidth":2.5,"color":"#111","interpolate":"monotone"},"encoding":{"x":{"field":"x","type":"quantitative","scale":{"domain":[0.04,3.67],"nice":false,"zero":false},"axis":null},"y":{"field":"r","type":"quantitative","scale":{"domain":[19.8,50.1],"nice":false,"zero":false},"axis":null}}},{"data":{"values":[{}]},"mark":{"type":"rect","fill":"white","stroke":"#2a2a2a","strokeWidth":1.5},"encoding":{"x":{"datum":0.05,"type":"quantitative","scale":{"domain":[0.05,3.65],"range":[25,98],"nice":false,"zero":false},"axis":null},"x2":{"datum":3.65},"y":{"datum":20,"type":"quantitative","scale":{"domain":[20,70],"range":[79,24],"nice":false,"zero":false},"axis":null},"y2":{"datum":70}}},{"mark":{"type":"line","strokeWidth":2.2,"color":"#111","interpolate":"monotone"},"encoding":{"x":{"field":"x","type":"quantitative","scale":{"domain":[0.05,3.65],"range":[25,98],"nice":false,"zero":false},"axis":{"orient":"bottom","offset":-23,"values":[1,2,3],"tickSize":3,"labelPadding":0,"title":null,"labelFlush":false,"labelOverlap":false,"zindex":1}},"y":{"field":"r","type":"quantitative","scale":{"domain":[20,70],"range":[79,24],"nice":false,"zero":false},"axis":{"orient":"left","offset":-25,"values":[20,70],"tickSize":3,"labelPadding":1,"title":null,"labelFlush":false,"labelOverlap":false,"zindex":1}}}}],"resolve":{"scale":{"x":"independent","y":"independent"},"axis":{"x":"independent","y":"independent"}}},
    {"width":136,"height":102,"data":{"name":"curves"},"transform":[{"filter":"datum.p==='r6c1'"}],"layer":[{"mark":{"type":"line","clip":true,"strokeWidth":2.5,"color":"#111","interpolate":"monotone"},"encoding":{"x":{"field":"x","type":"quantitative","scale":{"domain":[0.04,3.67],"nice":false,"zero":false},"axis":{"orient":"bottom","values":[1,2,3],"tickSize":4,"labelPadding":2,"title":null,"labelFlush":false}},"y":{"field":"r","type":"quantitative","scale":{"domain":[19.8,50.1],"nice":false,"zero":false},"axis":{"orient":"left","values":[25,35,45],"tickSize":4,"labelPadding":2,"title":null,"labelFlush":false}}}},{"data":{"values":[{}]},"mark":{"type":"rect","fill":"white","stroke":"#2a2a2a","strokeWidth":1.5},"encoding":{"x":{"datum":0.05,"type":"quantitative","scale":{"domain":[0.05,3.65],"range":[56,129],"nice":false,"zero":false},"axis":null},"x2":{"datum":3.65},"y":{"datum":20,"type":"quantitative","scale":{"domain":[20,23],"range":[62,7],"nice":false,"zero":false},"axis":null},"y2":{"datum":23}}},{"mark":{"type":"line","strokeWidth":2.2,"color":"#111","interpolate":"monotone"},"encoding":{"x":{"field":"x","type":"quantitative","scale":{"domain":[0.05,3.65],"range":[56,129],"nice":false,"zero":false},"axis":{"orient":"bottom","offset":-40,"values":[1,2,3],"tickSize":3,"labelPadding":0,"title":null,"labelFlush":false,"labelOverlap":false,"zindex":1}},"y":{"field":"r","type":"quantitative","scale":{"domain":[20,23],"range":[62,7],"nice":false,"zero":false},"axis":{"orient":"left","offset":-56,"values":[20,23],"tickSize":3,"labelPadding":1,"title":null,"labelFlush":false,"labelOverlap":false,"zindex":1}}}}],"resolve":{"scale":{"x":"independent","y":"independent"},"axis":{"x":"independent","y":"independent"}}},
    {"width":136,"height":102,"data":{"name":"curves"},"transform":[{"filter":"datum.p==='r6c2'"}],"layer":[{"mark":{"type":"line","clip":true,"strokeWidth":2.5,"color":"#111","interpolate":"monotone"},"encoding":{"x":{"field":"x","type":"quantitative","scale":{"domain":[0.04,3.67],"nice":false,"zero":false},"axis":{"orient":"bottom","values":[1,2,3],"tickSize":4,"labelPadding":2,"title":null,"labelFlush":false}},"y":{"field":"r","type":"quantitative","scale":{"domain":[19.8,50.1],"nice":false,"zero":false},"axis":null}}},{"data":{"values":[{}]},"mark":{"type":"rect","fill":"white","stroke":"#2a2a2a","strokeWidth":1.5},"encoding":{"x":{"datum":0.05,"type":"quantitative","scale":{"domain":[0.05,3.65],"range":[56,129],"nice":false,"zero":false},"axis":null},"x2":{"datum":3.65},"y":{"datum":20,"type":"quantitative","scale":{"domain":[20,23],"range":[62,7],"nice":false,"zero":false},"axis":null},"y2":{"datum":23}}},{"mark":{"type":"line","strokeWidth":2.2,"color":"#111","interpolate":"monotone"},"encoding":{"x":{"field":"x","type":"quantitative","scale":{"domain":[0.05,3.65],"range":[56,129],"nice":false,"zero":false},"axis":{"orient":"bottom","offset":-40,"values":[1,2,3],"tickSize":3,"labelPadding":0,"title":null,"labelFlush":false,"labelOverlap":false,"zindex":1}},"y":{"field":"r","type":"quantitative","scale":{"domain":[20,23],"range":[62,7],"nice":false,"zero":false},"axis":{"orient":"left","offset":-56,"values":[20,23],"tickSize":3,"labelPadding":1,"title":null,"labelFlush":false,"labelOverlap":false,"zindex":1}}}}],"resolve":{"scale":{"x":"independent","y":"independent"},"axis":{"x":"independent","y":"independent"}}},
    {"width":136,"height":102,"data":{"name":"curves"},"transform":[{"filter":"datum.p==='r6c3'"}],"layer":[{"mark":{"type":"line","clip":true,"strokeWidth":2.5,"color":"#111","interpolate":"monotone"},"encoding":{"x":{"field":"x","type":"quantitative","scale":{"domain":[0.04,3.67],"nice":false,"zero":false},"axis":{"orient":"bottom","values":[1,2,3],"tickSize":4,"labelPadding":2,"title":null,"labelFlush":false}},"y":{"field":"r","type":"quantitative","scale":{"domain":[19.8,50.1],"nice":false,"zero":false},"axis":null}}},{"data":{"values":[{}]},"mark":{"type":"rect","fill":"white","stroke":"#2a2a2a","strokeWidth":1.5},"encoding":{"x":{"datum":0.05,"type":"quantitative","scale":{"domain":[0.05,3.65],"range":[56,129],"nice":false,"zero":false},"axis":null},"x2":{"datum":3.65},"y":{"datum":20,"type":"quantitative","scale":{"domain":[20,24],"range":[62,7],"nice":false,"zero":false},"axis":null},"y2":{"datum":24}}},{"mark":{"type":"line","strokeWidth":2.2,"color":"#111","interpolate":"monotone"},"encoding":{"x":{"field":"x","type":"quantitative","scale":{"domain":[0.05,3.65],"range":[56,129],"nice":false,"zero":false},"axis":{"orient":"bottom","offset":-40,"values":[1,2,3],"tickSize":3,"labelPadding":0,"title":null,"labelFlush":false,"labelOverlap":false,"zindex":1}},"y":{"field":"r","type":"quantitative","scale":{"domain":[20,24],"range":[62,7],"nice":false,"zero":false},"axis":{"orient":"left","offset":-56,"values":[20,24],"tickSize":3,"labelPadding":1,"title":null,"labelFlush":false,"labelOverlap":false,"zindex":1}}}}],"resolve":{"scale":{"x":"independent","y":"independent"},"axis":{"x":"independent","y":"independent"}}},
    {"width":136,"height":102,"data":{"name":"curves"},"transform":[{"filter":"datum.p==='r6c4'"}],"layer":[{"mark":{"type":"line","clip":true,"strokeWidth":2.5,"color":"#111","interpolate":"monotone"},"encoding":{"x":{"field":"x","type":"quantitative","scale":{"domain":[0.04,3.67],"nice":false,"zero":false},"axis":{"orient":"bottom","values":[1,2,3],"tickSize":4,"labelPadding":2,"title":null,"labelFlush":false}},"y":{"field":"r","type":"quantitative","scale":{"domain":[19.8,50.1],"nice":false,"zero":false},"axis":null}}},{"data":{"values":[{}]},"mark":{"type":"rect","fill":"white","stroke":"#2a2a2a","strokeWidth":1.5},"encoding":{"x":{"datum":0.05,"type":"quantitative","scale":{"domain":[0.05,3.65],"range":[61,131],"nice":false,"zero":false},"axis":null},"x2":{"datum":3.65},"y":{"datum":23,"type":"quantitative","scale":{"domain":[23,33.6],"range":[49,5],"nice":false,"zero":false},"axis":null},"y2":{"datum":33.6}}},{"mark":{"type":"line","strokeWidth":2.2,"color":"#111","interpolate":"monotone"},"encoding":{"x":{"field":"x","type":"quantitative","scale":{"domain":[0.05,3.65],"range":[61,131],"nice":false,"zero":false},"axis":{"orient":"bottom","offset":-53,"values":[1,2,3],"tickSize":3,"labelPadding":0,"title":null,"labelFlush":false,"labelOverlap":false,"zindex":1}},"y":{"field":"r","type":"quantitative","scale":{"domain":[23,33.6],"range":[49,5],"nice":false,"zero":false},"axis":{"orient":"left","offset":-61,"values":[23,30],"tickSize":3,"labelPadding":1,"title":null,"labelFlush":false,"labelOverlap":false,"zindex":1}}}}],"resolve":{"scale":{"x":"independent","y":"independent"},"axis":{"x":"independent","y":"independent"}}}
  ]
 },
 {
  "width":105.45,"height":676,"view":{"stroke":null},
  "data":{"values":[{}]},
  "layer":[
   {"mark":{"type":"rule","strokeWidth":1.5,"color":"#333"},"encoding":{"x":{"datum":0.165,"type":"quantitative","scale":{"domain":[0,1],"nice":false,"zero":false},"axis":null},"y":{"datum":0,"type":"quantitative","scale":{"domain":[0,5.8885],"reverse":true,"nice":false,"zero":false},"axis":null},"y2":{"datum":2.8885}}},
   {"mark":{"type":"rule","strokeWidth":1.5,"color":"#333"},"encoding":{"x":{"datum":0.014,"type":"quantitative","scale":{"domain":[0,1],"nice":false,"zero":false},"axis":null},"x2":{"datum":0.165},"y":{"datum":0,"type":"quantitative","scale":{"domain":[0,5.8885],"reverse":true,"nice":false,"zero":false},"axis":null}}},
   {"mark":{"type":"rule","strokeWidth":1.5,"color":"#333"},"encoding":{"x":{"datum":0.014,"type":"quantitative","scale":{"domain":[0,1],"nice":false,"zero":false},"axis":null},"x2":{"datum":0.165},"y":{"datum":2.8885,"type":"quantitative","scale":{"domain":[0,5.8885],"reverse":true,"nice":false,"zero":false},"axis":null}}},
   {"mark":{"type":"rule","strokeWidth":1.5,"color":"#333"},"encoding":{"x":{"datum":0.165,"type":"quantitative","scale":{"domain":[0,1],"nice":false,"zero":false},"axis":null},"y":{"datum":3,"type":"quantitative","scale":{"domain":[0,5.8885],"reverse":true,"nice":false,"zero":false},"axis":null},"y2":{"datum":3.8885}}},
   {"mark":{"type":"rule","strokeWidth":1.5,"color":"#333"},"encoding":{"x":{"datum":0.014,"type":"quantitative","scale":{"domain":[0,1],"nice":false,"zero":false},"axis":null},"x2":{"datum":0.165},"y":{"datum":3,"type":"quantitative","scale":{"domain":[0,5.8885],"reverse":true,"nice":false,"zero":false},"axis":null}}},
   {"mark":{"type":"rule","strokeWidth":1.5,"color":"#333"},"encoding":{"x":{"datum":0.014,"type":"quantitative","scale":{"domain":[0,1],"nice":false,"zero":false},"axis":null},"x2":{"datum":0.165},"y":{"datum":3.8885,"type":"quantitative","scale":{"domain":[0,5.8885],"reverse":true,"nice":false,"zero":false},"axis":null}}},
   {"mark":{"type":"rule","strokeWidth":1.5,"color":"#333"},"encoding":{"x":{"datum":0.165,"type":"quantitative","scale":{"domain":[0,1],"nice":false,"zero":false},"axis":null},"y":{"datum":4,"type":"quantitative","scale":{"domain":[0,5.8885],"reverse":true,"nice":false,"zero":false},"axis":null},"y2":{"datum":5.8885}}},
   {"mark":{"type":"rule","strokeWidth":1.5,"color":"#333"},"encoding":{"x":{"datum":0.014,"type":"quantitative","scale":{"domain":[0,1],"nice":false,"zero":false},"axis":null},"x2":{"datum":0.165},"y":{"datum":4,"type":"quantitative","scale":{"domain":[0,5.8885],"reverse":true,"nice":false,"zero":false},"axis":null}}},
   {"mark":{"type":"rule","strokeWidth":1.5,"color":"#333"},"encoding":{"x":{"datum":0.014,"type":"quantitative","scale":{"domain":[0,1],"nice":false,"zero":false},"axis":null},"x2":{"datum":0.165},"y":{"datum":5.8885,"type":"quantitative","scale":{"domain":[0,5.8885],"reverse":true,"nice":false,"zero":false},"axis":null}}},
   {"mark":{"type":"text","text":"Slow","font":"Liberation Sans","fontWeight":"bold","fontSize":19,"angle":90,"align":"center","baseline":"middle","color":"#111"},"encoding":{"x":{"datum":0.308,"type":"quantitative","scale":{"domain":[0,1],"nice":false,"zero":false},"axis":null},"y":{"datum":1.444,"type":"quantitative","scale":{"domain":[0,5.8885],"reverse":true,"nice":false,"zero":false},"axis":null}}},
   {"mark":{"type":"text","text":"Intermediate","font":"Liberation Sans","fontWeight":"bold","fontSize":19,"angle":90,"align":"center","baseline":"middle","color":"#111"},"encoding":{"x":{"datum":0.308,"type":"quantitative","scale":{"domain":[0,1],"nice":false,"zero":false},"axis":null},"y":{"datum":3.444,"type":"quantitative","scale":{"domain":[0,5.8885],"reverse":true,"nice":false,"zero":false},"axis":null}}},
   {"mark":{"type":"text","text":"Fast","font":"Liberation Sans","fontWeight":"bold","fontSize":19,"angle":90,"align":"center","baseline":"middle","color":"#111"},"encoding":{"x":{"datum":0.308,"type":"quantitative","scale":{"domain":[0,1],"nice":false,"zero":false},"axis":null},"y":{"datum":4.944,"type":"quantitative","scale":{"domain":[0,5.8885],"reverse":true,"nice":false,"zero":false},"axis":null}}},
   {"mark":{"type":"rule","strokeWidth":1.5,"color":"#111"},"encoding":{"x":{"datum":0.706,"type":"quantitative","scale":{"domain":[0,1],"nice":false,"zero":false},"axis":null},"y":{"datum":0.01,"type":"quantitative","scale":{"domain":[0,5.8885],"reverse":true,"nice":false,"zero":false},"axis":null},"y2":{"datum":5.84}}},
   {"mark":{"type":"point","shape":"triangle-down","size":80,"filled":true,"color":"#111","opacity":1},"encoding":{"x":{"datum":0.706,"type":"quantitative","scale":{"domain":[0,1],"nice":false,"zero":false},"axis":null},"y":{"datum":5.853,"type":"quantitative","scale":{"domain":[0,5.8885],"reverse":true,"nice":false,"zero":false},"axis":null}}},
   {"mark":{"type":"text","text":"Increasing kₑₓ","font":"Liberation Sans","fontWeight":"bold","fontSize":18,"angle":90,"align":"center","baseline":"middle","color":"#111"},"encoding":{"x":{"datum":0.89,"type":"quantitative","scale":{"domain":[0,1],"nice":false,"zero":false},"axis":null},"y":{"datum":2.944,"type":"quantitative","scale":{"domain":[0,5.8885],"reverse":true,"nice":false,"zero":false},"axis":null}}},
   {"data":{"values":[{"rate":"0.2 s⁻¹"},{"rate":"20 s⁻¹"},{"rate":"200 s⁻¹"},{"rate":"2000 s⁻¹"},{"rate":"20000 s⁻¹"},{"rate":"100000 s⁻¹"}]},"mark":{"type":"text","fontSize":18,"angle":90,"align":"center","baseline":"middle","color":"#111"},"encoding":{"text":{"field":"rate"},"x":{"datum":0.545,"type":"quantitative","scale":{"domain":[0,1],"nice":false,"zero":false},"axis":null},"y":{"field":"rate","type":"ordinal","sort":null,"scale":{"type":"point","domain":["0.2 s⁻¹","20 s⁻¹","200 s⁻¹","2000 s⁻¹","20000 s⁻¹","100000 s⁻¹"],"padding":0.44425},"axis":null}}}
  ],
  "resolve":{"scale":{"y":"independent"}}
 }
 ],
 "spacing":7.65
}
],
"config":{
 "font":"Roboto",
 "view":{"stroke":"#2a2a2a","strokeWidth":1.6},
 "axis":{"labelFont":"Roboto","labelFontSize":13,"labelColor":"#111","tickColor":"#111","tickWidth":1.2,"grid":false,"domain":false},
 "title":{"font":"Roboto","fontWeight":"normal","color":"#111","fontSize":18}
}
}
